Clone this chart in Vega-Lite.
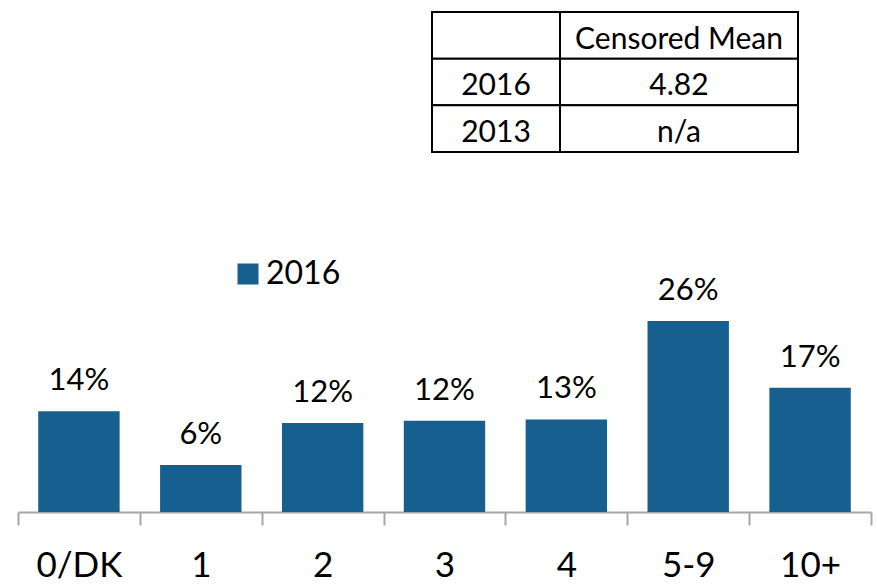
{
  "$schema": "https://vega.github.io/schema/vega-lite/v6.json",
  "width": 877,
  "height": 512,
  "autosize": "none",
  "padding": {"top": 0, "left": 0, "right": 0, "bottom": 73},
  "background": "white",
  "config": {"view": {"stroke": null}, "font": "Lato"},
  "datasets": {
    "bars": [
      {"cat": "0/DK", "value": 0.137, "year": "2016"},
      {"cat": "1", "value": 0.064, "year": "2016"},
      {"cat": "2", "value": 0.121, "year": "2016"},
      {"cat": "3", "value": 0.124, "year": "2016"},
      {"cat": "4", "value": 0.126, "year": "2016"},
      {"cat": "5-9", "value": 0.26, "year": "2016"},
      {"cat": "10+", "value": 0.169, "year": "2016"}
    ],
    "table": [
      {"row": "header", "label": "", "value": "Censored Mean"},
      {"row": "2016", "label": "2016", "value": "4.82"},
      {"row": "2013", "label": "2013", "value": "n/a"}
    ]
  },
  "layer": [
    {
      "data": {"name": "bars"},
      "encoding": {
        "x": {
          "field": "cat", "type": "nominal", "sort": null,
          "scale": {"range": [18, 871], "paddingInner": 0, "paddingOuter": 0},
          "axis": {
            "title": null, "grid": false, "labelAngle": 0,
            "domainColor": "#a6a6a6", "domainWidth": 2,
            "tickColor": "#a6a6a6", "tickWidth": 2, "tickSize": 13,
            "tickBand": "extent",
            "labelFontSize": 35, "labelFont": "Lato", "labelColor": "black",
            "labelBaseline": "alphabetic", "labelPadding": 51
          }
        },
        "y": {
          "field": "value", "type": "quantitative",
          "scale": {"domain": [0, 0.6966], "nice": false},
          "axis": null
        }
      },
      "layer": [
        {
          "mark": {"type": "bar", "width": {"band": 0.668}},
          "encoding": {
            "color": {
              "field": "year", "type": "nominal",
              "scale": {"range": ["#175f8f"]},
              "legend": {
                "title": null, "orient": "none", "legendX": 232, "legendY": 258,
                "symbolType": "square", "symbolSize": 441, "symbolStrokeWidth": 0,
                "labelFontSize": 32, "labelFont": "Lato", "labelColor": "black",
                "labelOffset": 2, "padding": 0
              }
            }
          }
        },
        {
          "mark": {"type": "text", "baseline": "alphabetic", "dy": -21, "fontSize": 31, "font": "Lato", "color": "black"},
          "encoding": {"text": {"field": "value", "type": "quantitative", "format": ".0%"}}
        }
      ]
    },
    {
      "data": {"name": "table"},
      "encoding": {
        "x": {"datum": "label", "type": "nominal", "scale": {"domain": ["label"], "range": [432, 560], "paddingInner": 0, "paddingOuter": 0}, "axis": null},
        "y": {"field": "row", "type": "nominal", "sort": null, "scale": {"domain": ["header", "2016", "2013"], "range": [12, 152], "paddingInner": 0, "paddingOuter": 0}, "axis": null}
      },
      "layer": [
        {"mark": {"type": "rect", "fill": "white", "stroke": "black", "strokeWidth": 2}},
        {
          "mark": {"type": "text", "baseline": "alphabetic", "dy": -10, "fontSize": 30, "font": "Lato", "color": "black"},
          "encoding": {"y": {"field": "row", "type": "nominal", "sort": null, "bandPosition": 1}, "text": {"field": "label"}}
        }
      ]
    },
    {
      "data": {"name": "table"},
      "encoding": {
        "x": {"datum": "value", "type": "nominal", "scale": {"domain": ["value"], "range": [560, 798], "paddingInner": 0, "paddingOuter": 0}, "axis": null},
        "y": {"field": "row", "type": "nominal", "sort": null, "scale": {"domain": ["header", "2016", "2013"], "range": [12, 152], "paddingInner": 0, "paddingOuter": 0}, "axis": null}
      },
      "layer": [
        {"mark": {"type": "rect", "fill": "white", "stroke": "black", "strokeWidth": 2}},
        {
          "mark": {"type": "text", "baseline": "alphabetic", "dy": -10, "fontSize": 30, "font": "Lato", "color": "black"},
          "encoding": {"y": {"field": "row", "type": "nominal", "sort": null, "bandPosition": 1}, "text": {"field": "value"}}
        }
      ]
    }
  ],
  "resolve": {"scale": {"x": "independent", "y": "independent"}}
}
